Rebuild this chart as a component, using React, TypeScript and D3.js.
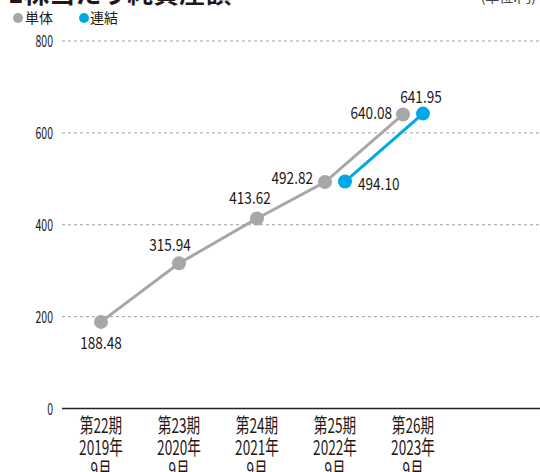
import React from "react";
import * as d3 from "d3";

const categories = ["第22期", "第23期", "第24期", "第25期", "第26期"];
const yearLabels = ["2019年", "2020年", "2021年", "2022年", "2023年"];
const monthLabels = ["9月", "9月", "9月", "9月", "9月"];
const tanTai: (number | null)[] = [188.48, 315.94, 413.62, 492.82, 640.08];
const renketsu: (number | null)[] = [null, null, null, 494.1, 641.95];
const yTicks = [0, 200, 400, 600, 800];

// label placement (relative to point): [dx, dy, anchor]
const tanTaiLabelPos: [number, number, string][] = [
  [0, 21, "middle"],
  [-9, -18, "middle"],
  [-7, -20, "middle"],
  [-12, -4, "end"],
  [-11, -1, "end"],
];
const renketsuLabelPos: [number, number, string][] = [
  [0, 0, "middle"],
  [0, 0, "middle"],
  [0, 0, "middle"],
  [13, 2, "start"],
  [-2, -17, "middle"],
];

const GRAY = "#a7a7a9";
const BLUE = "#00a9e6";
const TEXT = "#231815";
const FONT = "'Noto Sans CJK JP', 'Noto Sans', sans-serif";

function SText(props: {
  x: number;
  y: number;
  sx: number;
  anchor: string;
  size: number;
  children: React.ReactNode;
  weight?: string | number;
  fill?: string;
}) {
  const { x, y, sx, anchor, size, children, weight, fill } = props;
  return (
    <text
      transform={`translate(${x},${y}) scale(${sx},1)`}
      textAnchor={anchor as any}
      fontSize={size}
      fontFamily={FONT}
      fontWeight={weight ?? "normal"}
      fill={fill ?? TEXT}
    >
      {children}
    </text>
  );
}

export default function App() {
  const W = 540;
  const H = 472;
  const left = 62;
  const x = d3.scaleBand<string>().domain(categories).range([62, 452]).paddingInner(0).paddingOuter(0);
  const y = d3.scaleLinear().domain([0, 800]).range([408.5, 41]);
  const cx = (i: number) => (x(categories[i]) as number) + x.bandwidth() / 2;
  const both = (i: number) => tanTai[i] != null && renketsu[i] != null;
  const off = 10;

  const grayPts = tanTai
    .map((v, i) => (v == null ? null : { i, v, px: cx(i) - (both(i) ? off : 0), py: y(v) }))
    .filter((d) => d != null) as { i: number; v: number; px: number; py: number }[];
  const bluePts = renketsu
    .map((v, i) => (v == null ? null : { i, v, px: cx(i) + (both(i) ? off : 0), py: y(v) }))
    .filter((d) => d != null) as { i: number; v: number; px: number; py: number }[];

  const line = d3
    .line<{ px: number; py: number }>()
    .x((d) => d.px)
    .y((d) => d.py);

  return (
    <svg
      width={W}
      height={H}
      style={{ position: "absolute", left: 0, top: 0, display: "block", background: "#fff" }}
    >
      {/* title (cut off at top) */}
      <text x={8} y={3} fontSize={26} fontWeight="bold" fontFamily={FONT} fill={TEXT}>
        1株当たり純資産額
      </text>
      <text x={536} y={2} fontSize={14} textAnchor="end" fontFamily={FONT} fill="#444">
        (単位:円)
      </text>

      {/* legend */}
      <circle cx={18} cy={18} r={5} fill={GRAY} />
      <text x={25} y={23} fontSize={14} fontFamily={FONT} fill={TEXT}>
        単体
      </text>
      <circle cx={84} cy={18} r={5} fill={BLUE} />
      <text x={90} y={23} fontSize={14} fontFamily={FONT} fill={TEXT}>
        連結
      </text>

      {/* grid */}
      {yTicks.map((t) => (
        <g key={t}>
          {t !== 0 && (
            <line
              x1={left}
              x2={W}
              y1={y(t)}
              y2={y(t)}
              stroke="#a0a0a0"
              strokeWidth={1}
              strokeDasharray="3,3"
            />
          )}
          <SText x={53} y={y(t) + 6} sx={0.62} anchor="end" size={17}>
            {t}
          </SText>
        </g>
      ))}
      <line x1={left} x2={W} y1={y(0)} y2={y(0)} stroke="#222" strokeWidth={1.5} />

      {/* x labels */}
      {categories.map((c, i) => (
        <g key={c}>
          <SText x={cx(i)} y={433} sx={0.68} anchor="middle" size={20}>
            {c}
          </SText>
          <SText x={cx(i)} y={455} sx={0.68} anchor="middle" size={20}>
            {yearLabels[i]}
          </SText>
          <SText x={cx(i)} y={477} sx={0.68} anchor="middle" size={20}>
            {monthLabels[i]}
          </SText>
        </g>
      ))}

      {/* lines */}
      <path d={line(grayPts) || ""} fill="none" stroke={GRAY} strokeWidth={3} />
      <path d={line(bluePts) || ""} fill="none" stroke={BLUE} strokeWidth={3} />
      {grayPts.map((d) => (
        <circle key={"g" + d.i} cx={d.px} cy={d.py} r={7} fill={GRAY} />
      ))}
      {bluePts.map((d) => (
        <circle key={"b" + d.i} cx={d.px} cy={d.py} r={7} fill={BLUE} />
      ))}

      {/* value labels */}
      {grayPts.map((d) => {
        const [dx, dy, a] = tanTaiLabelPos[d.i];
        return (
          <SText key={"gl" + d.i} x={d.px + dx} y={d.py + dy + 6} sx={0.8} anchor={a} size={17}>
            {d.v.toFixed(2)}
          </SText>
        );
      })}
      {bluePts.map((d) => {
        const [dx, dy, a] = renketsuLabelPos[d.i];
        return (
          <SText key={"bl" + d.i} x={d.px + dx} y={d.py + dy + 6} sx={0.8} anchor={a} size={17}>
            {d.v.toFixed(2)}
          </SText>
        );
      })}
    </svg>
  );
}
